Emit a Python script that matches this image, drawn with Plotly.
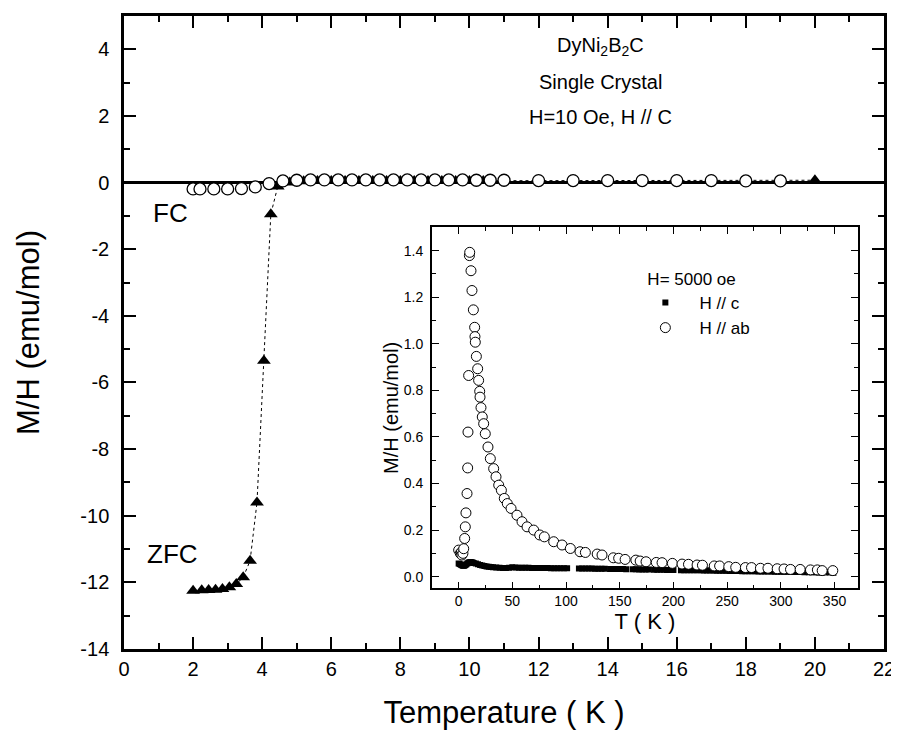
import plotly.graph_objects as go

# ---------------- main panel data (T in K, M/H in emu/mol) ----------------
fc_T = [2.0, 2.2, 2.6, 3.0, 3.4, 3.8, 4.2, 4.6, 5.0, 5.4, 5.8, 6.2, 6.6, 7.0, 7.4, 7.8,
        8.2, 8.6, 9.0, 9.4, 9.8, 10.2, 10.6, 11.0, 12.0, 13.0, 14.0, 15.0, 16.0, 17.0, 18.0, 19.0]
fc_M = [-0.19, -0.19, -0.19, -0.19, -0.18, -0.13, -0.03, 0.05, 0.07, 0.08, 0.08, 0.08, 0.08, 0.08, 0.08, 0.08,
        0.08, 0.08, 0.08, 0.08, 0.08, 0.07, 0.07, 0.07, 0.06, 0.06, 0.06, 0.06, 0.06, 0.06, 0.05, 0.05]

zfc_T = [2.0, 2.25, 2.45, 2.65, 2.85, 3.05, 3.25, 3.45, 3.65, 3.85, 4.05, 4.25, 4.45,
         4.8, 5.2, 5.6, 6.0, 6.4, 6.8, 7.2, 7.6, 8.0, 8.4, 8.8, 9.2, 9.6, 10.0, 10.4,
         11.0, 12.0, 13.0, 14.0, 15.0, 16.0, 17.0, 18.0, 19.0, 20.0]
zfc_M = [-12.25, -12.24, -12.23, -12.22, -12.2, -12.15, -12.05, -11.85, -11.35, -9.6, -5.35, -0.95, -0.12,
         0.0, 0.04, 0.05, 0.05, 0.05, 0.05, 0.05, 0.05, 0.05, 0.05, 0.05, 0.05, 0.05, 0.05, 0.05,
         0.05, 0.05, 0.05, 0.05, 0.05, 0.05, 0.05, 0.05, 0.05, 0.07]

# ---------------- inset data (H = 5000 oe) ----------------
ab_T = [0.0, 1.5, 2.5, 3.0, 4.0, 4.7, 5.6, 6.2, 6.8, 7.8, 8.4, 8.7, 9.3, 10.0, 10.3, 11.5, 12.4, 13.7,
        14.9, 15.2, 15.5, 16.5, 17.7, 18.6, 19.6, 19.9, 20.8, 22.0, 23.3, 24.8, 27.3, 29.5, 32.6,
        34.8, 37.3, 39.8, 42.5, 45.3, 48.8, 54.3, 59.0, 63.7, 69.9, 75.5, 79.8, 88.5, 96.3, 104.0,
        113.0, 118.0, 129.0, 133.5, 144.0, 149.0, 155.0, 165.0, 169.0, 174.5, 184.0, 189.4, 199.0,
        208.0, 214.0, 222.0, 227.0, 238.0, 243.0, 251.5, 258.0, 267.0, 272.7, 281.0, 288.0, 296.6,
        303.0, 309.0, 318.0, 327.6, 334.0, 338.5, 348.4]
ab_M = [0.114, 0.100, 0.105, 0.093, 0.100, 0.120, 0.164, 0.214, 0.274, 0.357, 0.467, 0.621, 0.864, 1.379, 1.393, 1.314, 1.229, 1.146,
        1.071, 1.031, 1.007, 0.946, 0.893, 0.843, 0.796, 0.771, 0.726, 0.686, 0.657, 0.614, 0.557, 0.507, 0.464,
        0.429, 0.393, 0.371, 0.336, 0.314, 0.293, 0.264, 0.236, 0.214, 0.200, 0.179, 0.171, 0.150, 0.136, 0.121,
        0.107, 0.104, 0.097, 0.093, 0.081, 0.079, 0.074, 0.071, 0.067, 0.064, 0.061, 0.060, 0.057,
        0.054, 0.053, 0.050, 0.049, 0.046, 0.046, 0.043, 0.040, 0.039, 0.039, 0.036, 0.036, 0.034,
        0.033, 0.031, 0.031, 0.029, 0.029, 0.026, 0.026]

c_T = [0, 1, 2, 3, 4, 5, 6, 7, 8, 9, 10, 11, 12, 13, 14, 16, 18, 20, 22, 24, 26, 28, 30, 32, 35, 38,
       41, 44, 47, 50, 53, 56, 59, 62, 65, 68, 71, 74, 77, 80, 83, 86, 89, 92, 95, 98, 101,
       112, 115, 118, 121, 124, 127, 130, 133, 136,
       141, 144, 147, 150, 153, 156,
       162, 165, 168, 171, 174, 177,
       182, 185, 188, 191, 194, 197, 200,
       207, 210, 213, 216, 219, 222, 225, 228, 231, 234, 237, 240, 243, 246, 249, 252, 255, 258,
       261, 264, 267, 270, 273, 276, 279, 282, 285, 288, 291, 294, 297, 300, 303, 306, 309, 312,
       316, 319, 322,
       326, 329, 332, 335, 338, 341,
       346, 349]
c_M = [0.057, 0.054, 0.051, 0.049, 0.047, 0.047, 0.049, 0.052, 0.056, 0.060, 0.062, 0.063, 0.062, 0.061, 0.059,
       0.056, 0.053, 0.050, 0.048, 0.046, 0.044, 0.043, 0.041, 0.040, 0.039, 0.038,
       0.037, 0.037, 0.038, 0.040, 0.039, 0.038, 0.038, 0.038, 0.038, 0.037, 0.037, 0.037, 0.037, 0.037, 0.037,
       0.036, 0.036, 0.036, 0.036, 0.036, 0.036,
       0.035, 0.035, 0.035, 0.035, 0.035, 0.034, 0.034, 0.034, 0.034,
       0.033, 0.033, 0.033, 0.033, 0.033, 0.032,
       0.032, 0.032, 0.031, 0.031, 0.031, 0.031,
       0.030, 0.030, 0.030, 0.030, 0.029, 0.029, 0.029,
       0.028, 0.028, 0.028, 0.027, 0.027, 0.027, 0.027, 0.026, 0.026, 0.026, 0.026, 0.025, 0.025, 0.025,
       0.025, 0.024, 0.024, 0.024,
       0.024, 0.023, 0.023, 0.023, 0.023, 0.023, 0.022, 0.022, 0.022, 0.022, 0.022, 0.021, 0.021, 0.021,
       0.021, 0.021, 0.020, 0.020,
       0.020, 0.020, 0.019,
       0.019, 0.019, 0.019, 0.018, 0.018, 0.018,
       0.018, 0.017]

x_ticks = [0, 2, 4, 6, 8, 10, 12, 14, 16, 18, 20, 22]
y_ticks = [-14, -12, -10, -8, -6, -4, -2, 0, 2, 4]
inset_x_ticks = [0, 50, 100, 150, 200, 250, 300, 350]
inset_y_ticks = [0.0, 0.2, 0.4, 0.6, 0.8, 1.0, 1.2, 1.4]

FONT = "Liberation Sans, Arial, Helvetica, sans-serif"

fig = go.Figure()

fig.add_trace(go.Scatter(
    x=zfc_T, y=zfc_M, mode="lines+markers", showlegend=False,
    line=dict(color="black", width=1, dash="dot"),
    marker=dict(symbol="triangle-up", size=12, color="black"),
    xaxis="x", yaxis="y"))
fig.add_trace(go.Scatter(
    x=fc_T, y=fc_M, mode="markers", showlegend=False,
    marker=dict(symbol="circle", size=12, color="white", line=dict(color="black", width=1.3)),
    xaxis="x", yaxis="y"))

fig.add_trace(go.Scatter(
    x=c_T, y=c_M, mode="markers", name="&nbsp;&nbsp;&nbsp;H // c",
    marker=dict(symbol="square", size=6, color="black", line=dict(width=0)),
    xaxis="x2", yaxis="y2"))
fig.add_trace(go.Scatter(
    x=ab_T, y=ab_M, mode="markers", name="&nbsp;&nbsp;&nbsp;H // ab",
    marker=dict(symbol="circle", size=10, color="white", line=dict(color="black", width=1)),
    xaxis="x2", yaxis="y2"))

main_axis_common = dict(
    showline=True, linecolor="black", linewidth=2.5, mirror="ticks",
    ticks="inside", ticklen=12, tickwidth=2, tickcolor="black",
    showgrid=False, automargin=False, ticklabeloverflow="allow",
    tickfont=dict(family=FONT, size=20, color="black"),
)

inset_axis_common = dict(
    showline=True, linecolor="black", linewidth=1.5, mirror="ticks",
    ticks="inside", ticklen=7, tickwidth=1.2, tickcolor="black",
    showgrid=False, zeroline=False, automargin=False,
    tickfont=dict(family=FONT, size=14, color="black"),
)

# The page body has an 8 px default margin, so the figure is sized 8 px smaller
# in each direction to fill the 899x741 window exactly.
fig.update_layout(
    width=891, height=733,
    margin=dict(l=116, r=15, t=8, b=92),
    paper_bgcolor="white", plot_bgcolor="white",
    font=dict(family=FONT, color="black"),
    xaxis=dict(
        **main_axis_common, zeroline=False,
        range=[0, 22], tickvals=x_ticks, ticktext=[str(v) for v in x_ticks],
        minor=dict(ticks="inside", ticklen=6, tickwidth=2, tickcolor="black", dtick=1, tick0=0),
        ticklabelstandoff=0,
        title=dict(text="Temperature ( K )", font=dict(family=FONT, size=31), standoff=23),
        domain=[0, 1], anchor="y",
    ),
    yaxis=dict(
        **main_axis_common,
        range=[-14, 5], tickvals=y_ticks, ticktext=[str(v) for v in y_ticks],
        minor=dict(ticks="inside", ticklen=6, tickwidth=2, tickcolor="black", dtick=1, tick0=1),
        zeroline=True, zerolinecolor="black", zerolinewidth=2.5,
        ticklabelstandoff=8,
        title=dict(text="M/H (emu/mol)", font=dict(family=FONT, size=31), standoff=32),
        domain=[0, 1], anchor="x",
    ),
    xaxis2=dict(
        **inset_axis_common,
        range=[-25, 372], tickvals=inset_x_ticks, ticktext=[str(v) for v in inset_x_ticks],
        minor=dict(ticks="inside", ticklen=4, tickwidth=1.2, tickcolor="black", dtick=25, tick0=0),
        ticklabelstandoff=-1,
        title=dict(text="T ( K )", font=dict(family=FONT, size=22), standoff=0),
        domain=[0.405, 0.966], anchor="y2",
    ),
    yaxis2=dict(
        **inset_axis_common,
        range=[-0.05, 1.5], tickvals=inset_y_ticks, ticktext=[f"{v:.1f}" for v in inset_y_ticks],
        minor=dict(ticks="inside", ticklen=4, tickwidth=1.2, tickcolor="black", dtick=0.1, tick0=0),
        ticklabelstandoff=4,
        title=dict(text="M/H (emu/mol)", font=dict(family=FONT, size=20), standoff=0),
        domain=[0.0959, 0.666], anchor="x2",
    ),
    legend=dict(
        x=0.686, y=0.610, xanchor="left", yanchor="top",
        bgcolor="rgba(0,0,0,0)", borderwidth=0,
        font=dict(family=FONT, size=17, color="black"),
        title=dict(text="H= 5000 oe", font=dict(family=FONT, size=17, color="black")),
        itemwidth=30, tracegroupgap=0,
    ),
    showlegend=True,
)

ann_font = dict(family=FONT, size=20, color="black")
fig.add_annotation(x=13.8, y=4.07, xref="x", yref="y", text="DyNi<sub>2</sub>B<sub>2</sub>C",
                   showarrow=False, font=ann_font)
fig.add_annotation(x=13.8, y=3.02, xref="x", yref="y", text="Single Crystal",
                   showarrow=False, font=ann_font)
fig.add_annotation(x=13.8, y=1.97, xref="x", yref="y", text="H=10 Oe, H // C",
                   showarrow=False, font=ann_font)
fig.add_annotation(x=1.35, y=-0.9, xref="x", yref="y", text="FC",
                   showarrow=False, font=dict(family=FONT, size=26, color="black"))
fig.add_annotation(x=1.4, y=-11.15, xref="x", yref="y", text="ZFC",
                   showarrow=False, font=dict(family=FONT, size=26, color="black"))

fig.write_html("out.html")
